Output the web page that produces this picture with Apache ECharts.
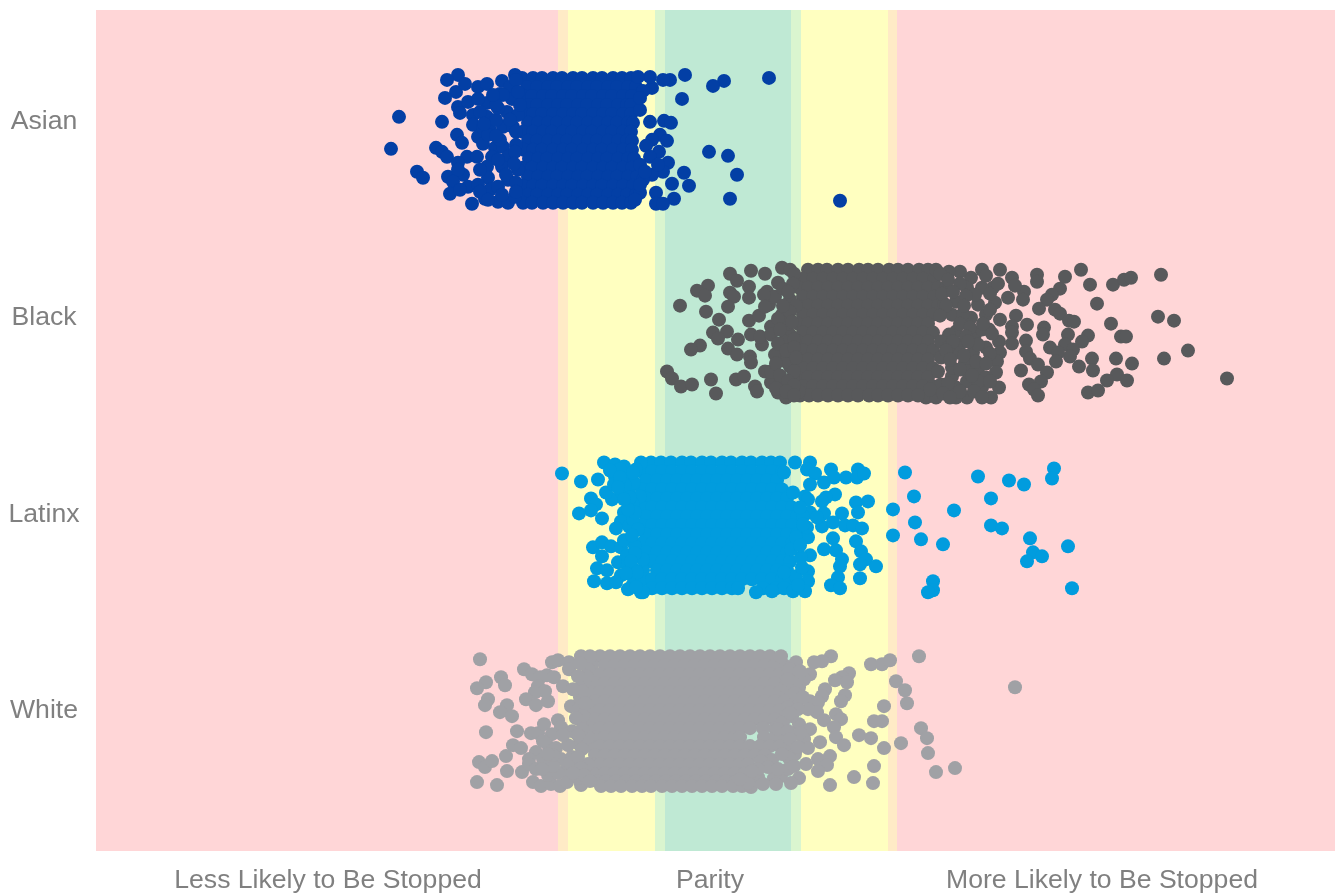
<!DOCTYPE html>
<html><head><meta charset="utf-8">
<style>html,body{margin:0;padding:0;background:#fff}#c{width:1335px;height:894px}</style>
<script src="https://cdn.jsdelivr.net/npm/echarts@6/dist/echarts.min.js"></script>
</head><body><div id="c"></div>
<script>
const groupNames = ['Asian','Black','Latinx','White'];
const groupColors = ['#033FA5','#58595B','#019CDE','#A0A1A5'];
const rowCentres = [130,324,518,712];
const rowLabelPositions = [112,308,505,701];
const xLabels = ['Less Likely to Be Stopped','Parity','More Likely to Be Stopped'];
const xLabelPositions = [-400,-18,374];
const bandStops = [-632,-170,-160,-73,-63,63,73,160,169,607];
const bandColors = ['#FFD6D7','#FFEBC6','#FFFFC0','#DAF5CF','#BFE9D4','#DAF5CF','#FFFFC0','#FFEBC6','#FFD6D7'];

// Each point: [score relative to parity, vertical jitter within the row]
const asianEdge = [[-329,-23],[-337,9],[-286,-18],[-311,32],[-305,38],[-292,8],[-286,12],[-281,17],[-270,-65],[-281,-60],[-272,-48],[-283,-42],[-263,-56],[-250,-53],[-241,-56],[-226,-59],[-213,-65],[-218,-53],[-270,-33],[-268,-27],[-260,-38],[-241,-37],[-216,-41],[-255,-25],[-221,-28],[-255,-15],[-241,-23],[-238,-10],[-271,-5],[-266,3],[-250,-3],[-225,-13],[-215,-13],[-233,8],[-225,7],[-261,17],[-251,17],[-236,17],[-220,17],[-270,23],[-241,27],[-226,27],[-280,37],[-265,35],[-270,30],[-240,38],[-220,40],[-275,42],[-260,47],[-250,45],[-278,54],[-268,50],[-238,50],[-256,64],[-243,59],[-230,62],[-220,63],[-213,57],[-250,-41],[-245,-12],[-232,-20],[-228,-46],[-245,4],[-210,-25],[-212,5],[-210,30],[-230,-32],[-43,-65],[-58,-60],[-65,-60],[-4,-59],[-15,-54],[41,-62],[-46,-41],[-76,-52],[-85,-49],[-78,-63],[-90,-63],[-78,-18],[-64,-19],[-57,-17],[-68,-5],[-61,1],[-76,0],[-82,6],[-69,12],[-78,17],[-19,12],[0,16],[9,35],[-60,23],[-44,33],[-39,46],[-56,44],[-65,32],[-76,35],[-54,59],[-72,53],[-72,64],[-65,64],[2,59],[112,61],[-88,53],[-93,60],[-85,40],[-88,25],[-83,32],[-88,45],[-88,-30],[-88,-42],[-70,25]];
const asianFill = [[-212,-60],[-225,-45],[-210,-48],[-232,-35],[-218,-20],[-212,-8],[-240,-5],[-228,0],[-213,12],[-230,20],[-214,24],[-222,35],[-212,43],[-230,47],[-248,30],[-212,52],[-226,55],[-248,52],[-240,60],[-248,-28],[-235,-45],[-208,-35],[-244,-16],[-232,-4]];
const asianCore = [
[-62,-206,-195,-186,-175,-166,-155,-146,-135,-126,-115,-106,-97],
[-53,-201,-191,-180,-171,-160,-151,-140,-131,-120,-111,-100,-92],
[-44,-205,-196,-185,-176,-165,-156,-145,-136,-125,-116,-105,-96],
[-35,-199,-191,-180,-170,-161,-150,-141,-130,-121,-110,-101,-97],
[-26,-204,-195,-186,-175,-165,-155,-146,-135,-125,-116,-105,-97],
[-17,-200,-190,-180,-171,-160,-151,-140,-130,-120,-111,-100,-95],
[-8,-205,-195,-185,-176,-165,-156,-145,-136,-125,-116,-105,-97],
[1,-200,-191,-180,-170,-161,-150,-140,-131,-120,-110,-101,-96],
[10,-204,-195,-186,-175,-165,-156,-145,-135,-126,-115,-105,-96],
[19,-199,-190,-181,-170,-160,-151,-140,-130,-121,-110,-100,-94],
[28,-205,-196,-185,-175,-166,-155,-146,-135,-125,-116,-105,-96],
[37,-200,-190,-180,-171,-160,-150,-141,-130,-120,-111,-100,-91],
[46,-205,-195,-186,-175,-165,-156,-145,-135,-126,-115,-105,-95],
[55,-200,-191,-180,-170,-161,-150,-140,-131,-120,-110,-101,-92],
[63,-205,-196,-185,-175,-165,-155,-146,-135,-125,-115,-106,-97]];

const blackEdge = [[-48,-28],[-20,-48],[-31,-43],[-23,-38],[2,-60],[9,-53],[23,-63],[37,-60],[21,-47],[2,-41],[6,-37],[21,-36],[0,-27],[-22,-22],[-9,-14],[21,-13],[31,-18],[-15,-1],[-1,-2],[-10,5],[10,6],[-28,12],[-37,16],[0,15],[9,21],[22,23],[23,29],[23,1],[34,11],[-61,38],[-56,45],[-47,53],[-36,51],[-17,46],[-12,60],[8,46],[16,43],[27,53],[29,58],[37,38],[43,49],[50,59],[58,64],[39,-42],[41,-29],[54,-66],[62,-64],[43,-7],[54,-19],[52,24],[62,33],[71,58],[47,-37],[50,-51],[62,-34],[65,44],[32,3],[43,1],[36,-39],[37,-27],[62,1],[47,21],[58,28],[43,38],[55,-45],[60,-10],[56,8],[60,17],[54,50],[62,54],[272,-64],[254,-64],[309,-59],[309,-52],[284,-56],[296,-42],[295,-34],[280,-36],[267,-31],[265,-46],[287,-48],[337,-57],[353,-64],[362,-49],[385,-49],[396,-54],[403,-56],[433,-59],[332,-45],[324,-39],[319,-34],[311,-25],[369,-30],[327,-24],[332,-20],[341,-13],[346,-12],[430,-17],[446,-13],[383,-10],[288,-18],[299,-9],[284,-7],[284,-1],[316,-6],[315,1],[340,1],[360,2],[354,8],[393,3],[398,3],[271,8],[284,10],[298,7],[322,14],[337,11],[330,19],[345,16],[342,23],[328,28],[298,18],[302,25],[310,31],[319,39],[293,37],[351,33],[364,25],[365,37],[388,25],[404,30],[436,25],[460,17],[389,41],[379,47],[399,47],[499,45],[360,59],[370,57],[313,48],[301,51],[306,56],[310,62],[272,19],[269,28],[268,39],[271,54],[263,64],[250,36],[254,54],[239,64],[228,64],[198,64],[208,64],[258,14],[245,19],[237,29],[230,19],[224,43],[258,-19],[261,-4],[250,-29],[228,54],[243,-56],[254,-46],[239,-46],[228,-32],[247,-39],[232,-62],[221,-62],[208,-64],[224,-19],[243,-16],[228,-2],[247,1],[254,-4],[221,1],[213,8],[232,11],[250,11],[224,34],[239,48],[258,44],[213,24],[210,38],[213,51],[218,-46],[216,-30],[235,-20],[240,38],[250,48],[222,54],[220,14]];
const blackFill = [[66,-60],[65,-50],[60,-42],[68,-28],[62,-22],[55,-28],[50,-15],[64,-12],[52,-4],[66,6],[50,10],[58,17],[66,14],[68,24],[48,30],[66,38],[52,42],[60,48],[66,52],[48,55],[58,58],[66,62],[212,-60],[220,-54],[232,-50],[214,-40],[225,-42],[238,-38],[218,-28],[236,-28],[212,-18],[232,-10],[242,-6],[238,3],[225,8],[240,8],[218,17],[236,22],[248,28],[222,26],[232,36],[244,42],[220,50],[232,58],[246,58],[254,64],[215,60],[222,64],[202,56],[180,62],[190,62],[258,-58],[262,-40],[270,-50],[262,-24],[272,-14],[264,0],[262,20],[258,30],[262,48],[255,-10]];
const blackCore = [
[-64,80,90,99,110,120,131,140,150,161,170,180,191,200],
[-55,75,85,95,105,115,125,135,145,155,165,175,185,195,206],
[-46,71,80,90,100,110,120,130,140,150,160,170,180,190,200,210],
[-37,75,85,95,105,115,125,135,145,155,165,175,185,195,206],
[-28,70,80,90,100,110,120,130,140,150,160,170,180,190,200,210],
[-19,75,85,95,105,115,125,135,145,155,165,175,185,195,205],
[-10,70,80,90,100,110,120,130,140,150,160,170,180,190,200],
[-1,75,85,95,105,115,125,135,145,155,165,175,185,195,205],
[8,70,80,90,100,110,120,130,140,150,160,170,180,190,200],
[17,75,85,95,105,115,125,135,145,155,165,175,185,195,205],
[26,70,80,90,100,110,120,130,140,150,160,170,180,190,200],
[35,75,85,95,105,115,125,135,145,155,165,175,185,195,205],
[44,70,80,90,100,110,120,130,140,150,160,170,180,190,200],
[53,75,85,95,105,115,125,135,145,155,165,175,185,195,205],
[62,72,81,90,100,110,120,130,141,150,160,170]];

const latinxEdge = [[-166,-54],[-147,-46],[-130,-48],[-124,-65],[-113,-63],[-104,-61],[-87,-65],[-137,-29],[-132,-23],[-137,-17],[-149,-14],[-126,-9],[-116,-28],[-122,-35],[-113,-51],[-101,-50],[-114,-43],[-99,-38],[-104,-15],[-107,-6],[-112,1],[-99,-1],[-135,20],[-126,15],[-117,19],[-107,20],[-104,13],[-126,29],[-93,19],[-110,35],[-100,37],[-131,41],[-121,43],[-134,54],[-121,56],[-107,48],[-96,59],[-87,65],[-94,42],[-85,32],[-94,52],[-88,-31],[-92,-58],[-94,-45],[-95,-23],[-95,-8],[-90,2],[-106,-35],[-108,-58],[-103,-42],[-100,-27],[-118,-57],[-101,28],[-85,65],[67,-65],[82,-65],[79,-58],[87,-54],[82,-43],[96,-45],[103,-58],[106,-50],[118,-50],[130,-58],[129,-50],[136,-54],[56,-55],[107,-33],[98,-30],[94,-26],[77,-31],[65,-35],[128,-25],[140,-26],[130,-15],[114,-14],[96,-14],[82,-15],[94,-1],[105,-5],[117,-2],[125,-2],[134,1],[80,10],[79,0],[105,11],[128,14],[96,22],[108,23],[133,24],[138,32],[132,37],[148,39],[114,32],[112,39],[82,28],[73,30],[80,44],[110,50],[132,51],[103,58],[112,61],[80,54],[77,64],[65,64],[68,49],[44,64],[28,65],[56,45],[63,22],[68,10],[89,-10],[75,-11],[80,-28],[177,-55],[250,-51],[281,-47],[296,-43],[326,-59],[324,-49],[186,-31],[263,-29],[165,-18],[226,-17],[187,-5],[263,-2],[274,1],[165,8],[193,12],[215,17],[302,11],[340,19],[305,25],[314,29],[299,34],[205,54],[205,63],[200,65],[344,61]];
const latinxFill = [[-95,-55],[-98,-30],[-93,-15],[-100,-18],[-96,8],[-93,26],[-97,34],[-91,45],[-100,62],[-92,60],[72,-20],[75,-3],[72,18],[74,40],[70,58],[-108,-50],[-110,-40],[-104,-28],[-112,55],[-102,46]];
const latinxCore = [
[-65,-77,-67,-57,-46,-37,-26,-17,-6,3,14,23,34,43,52],
[-56,-86,-76,-66,-56,-46,-36,-26,-16,-6,4,14,24,34,44,54],
[-47,-82,-71,-61,-51,-41,-31,-21,-11,-1,9,19,29,39,49],
[-38,-86,-76,-66,-56,-46,-36,-26,-16,-6,4,14,24,34,44,54],
[-29,-82,-71,-61,-51,-41,-31,-21,-11,-1,9,19,29,39,49,59],
[-20,-86,-76,-66,-56,-46,-36,-26,-16,-6,4,14,24,34,44,54,64],
[-11,-82,-71,-61,-51,-41,-31,-21,-11,-1,9,19,29,39,49,59,69],
[-2,-86,-76,-66,-56,-46,-36,-26,-16,-6,4,14,24,34,44,54,64],
[7,-82,-71,-61,-51,-41,-31,-21,-11,-1,9,19,29,39,49,59,69],
[16,-86,-76,-66,-56,-46,-36,-26,-16,-6,4,14,24,34,44,54,64],
[25,-82,-71,-61,-51,-41,-31,-21,-11,-1,9,19,29,39,49,59],
[34,-80,-76,-66,-56,-46,-36,-26,-16,-6,4,14,24,34,44,54,62],
[43,-85,-71,-61,-51,-41,-31,-21,-11,-1,9,19,29,39,49,59],
[52,-84,-76,-66,-56,-46,-36,-26,-16,-6,4,14,24,34,44,54,62],
[61,-76,-66,-56,-46,-36,-26,-16,-6,4,10,35,48,56]];

const whiteEdge = [[-248,-62],[-242,-39],[-251,-33],[-227,-44],[-223,-36],[-240,-22],[-243,-16],[-221,-16],[-228,-9],[-216,-5],[-242,11],[-211,10],[-197,12],[-190,12],[-215,24],[-207,27],[-222,35],[-249,41],[-243,46],[-236,40],[-221,50],[-206,51],[-251,61],[-231,64],[-204,-52],[-196,-47],[-188,-44],[-181,-46],[-174,-44],[-176,-59],[-170,-61],[-159,-59],[-159,-52],[-190,-35],[-193,-29],[-202,-22],[-192,-16],[-180,-20],[-165,-35],[-157,-15],[-149,-12],[-145,0],[-184,3],[-170,-1],[-167,6],[-176,13],[-156,10],[-192,31],[-179,26],[-199,38],[-199,43],[-192,48],[-177,41],[-167,38],[-163,50],[-195,61],[-187,65],[-177,63],[-168,65],[-161,61],[-147,64],[-156,36],[-149,23],[-140,43],[-147,-65],[-138,-65],[-140,16],[-185,20],[-172,27],[-160,24],[-180,54],[-170,52],[-150,57],[-140,-52],[-145,-38],[-148,-24],[-183,-30],[103,-65],[94,-60],[86,-59],[68,-59],[53,-65],[143,-57],[154,-57],[162,-61],[191,-65],[287,-34],[121,-48],[114,-44],[107,-41],[119,-39],[168,-40],[177,-31],[179,-18],[156,-15],[97,-32],[94,-25],[117,-26],[113,-20],[82,-47],[76,-42],[71,-34],[82,-20],[90,-19],[89,-9],[80,-12],[96,-1],[108,-7],[113,-2],[146,0],[154,0],[106,6],[108,16],[116,24],[131,14],[143,17],[156,27],[173,22],[193,7],[199,17],[200,32],[208,51],[227,47],[146,45],[145,62],[126,56],[102,64],[71,3],[82,8],[76,18],[92,21],[80,27],[67,33],[61,37],[44,39],[33,40],[78,43],[90,38],[102,35],[99,44],[90,50],[71,57],[63,62],[53,55],[46,57],[48,63],[30,56],[23,66],[5,65],[14,65],[69,-42],[58,-35],[69,-20],[64,-5],[55,1]];
const whiteFill = [[-148,-58],[-142,-45],[-150,-45],[-146,-30],[-155,-32],[-143,-18],[-145,-5],[-152,-3],[-146,8],[-150,14],[-146,28],[-158,42],[-150,36],[-147,47],[-144,54],[-155,52],[-138,60],[-175,45],[-175,34],[-185,38],[-165,14],[-180,33],[-186,48],[62,-52],[72,-50],[60,-42],[67,-28],[75,-24],[60,-14],[70,-12],[62,-8],[50,8],[60,10],[72,12],[62,18],[70,26],[54,33],[40,46],[30,48],[20,62],[35,63],[12,58],[24,50],[60,48],[50,48],[66,45]];
const whiteCore = [
[-65,-128,-118,-108,-98,-88,-78,-68,-58,-48,-38,-28,-18,-8,2,12,22,32,42],
[-56,-136,-123,-113,-103,-93,-83,-73,-63,-53,-43,-33,-23,-13,-3,7,17,27,37,47,56],
[-47,-138,-128,-118,-108,-98,-88,-78,-68,-58,-48,-38,-28,-18,-8,2,12,22,32,42,52,60],
[-38,-133,-123,-113,-103,-93,-83,-73,-63,-53,-43,-33,-23,-13,-3,7,17,27,37,47,62],
[-29,-138,-128,-118,-108,-98,-88,-78,-68,-58,-48,-38,-28,-18,-8,2,12,22,32,42,52,64],
[-20,-133,-123,-113,-103,-93,-83,-73,-63,-53,-43,-33,-23,-13,-3,7,17,27,37,47,57],
[-11,-138,-128,-118,-108,-98,-88,-78,-68,-58,-48,-38,-28,-18,-8,2,12,22,32,42,52,62],
[-2,-133,-123,-113,-103,-93,-83,-73,-63,-53,-43,-33,-23,-13,-3,7,17,27,37,47],
[7,-138,-128,-118,-108,-98,-88,-78,-68,-58,-48,-38,-28,-18,-8,2,12,22,35,47],
[16,-133,-123,-113,-103,-93,-83,-73,-63,-53,-43,-33,-23,-13,-3,7,12,36,47,57],
[25,-138,-128,-118,-108,-98,-88,-78,-68,-58,-48,-38,-28,-18,-8,2,12,22,32,42,52,62],
[34,-133,-123,-113,-103,-93,-83,-73,-63,-53,-43,-33,-23,-13,-3,7,17,27,37],
[43,-134,-128,-118,-108,-98,-88,-78,-68,-58,-48,-38,-28,-18,-8,2,12,20],
[52,-135,-123,-113,-103,-93,-83,-73,-63,-53,-43,-33,-23,-13,-3,7,17],
[60,-131,-122,-112,-102,-92,-82,-72,-62,-52,-42,-32,-22,-12,-2,8],
[65,-127,-117,-107,-96,-86,-77,-66,-56,-46,-36,-26,-16,-6]];

const edges = [asianEdge.concat(asianFill), blackEdge.concat(blackFill), latinxEdge.concat(latinxFill), whiteEdge.concat(whiteFill)];
const cores = [asianCore, blackCore, latinxCore, whiteCore];

function pointsFor(i){
  const pts = [];
  cores[i].forEach(function(row){
    row.slice(1).forEach(function(x){ pts.push([x, rowCentres[i] + row[0]]); });
  });
  edges[i].forEach(function(p){ pts.push([p[0], rowCentres[i] + p[1]]); });
  return pts;
}
const bandAreas = bandColors.map(function(c,i){
  return [{xAxis:bandStops[i], itemStyle:{color:c, opacity:1}}, {xAxis:bandStops[i+1]}];
});
const labelColor = '#808080';
const series = [{
  type:'scatter', name:'bands', data:[], silent:true, z:1,
  markArea:{silent:true, animation:false, data:bandAreas}
}].concat(groupNames.map(function(n,i){
  return {type:'scatter', name:n, data:pointsFor(i), symbol:'circle', symbolSize:14,
    itemStyle:{color:groupColors[i], opacity:1}, z:3, silent:true, large:false};
}));
const chart = echarts.init(document.getElementById('c'), null, {renderer:'canvas'});
chart.setOption({
  animation:false, backgroundColor:'#fff',
  grid:{left:96, top:10, width:1239, height:842, containLabel:false},
  xAxis:{type:'value', min:-632, max:607, axisLine:{show:false}, axisTick:{show:false}, splitLine:{show:false},
    axisLabel:{customValues:xLabelPositions, color:labelColor, fontFamily:'Liberation Sans', fontSize:26.6, margin:16, hideOverlap:false,
      formatter:function(v){ return xLabels[xLabelPositions.indexOf(v)] || ''; }}},
  yAxis:{type:'value', inverse:true, min:0, max:842, axisLine:{show:false}, axisTick:{show:false}, splitLine:{show:false},
    axisLabel:{customValues:rowLabelPositions, color:labelColor, fontFamily:'Liberation Sans', fontSize:26.6, margin:52, align:'center',
      formatter:function(v){ return groupNames[rowLabelPositions.indexOf(v)] || ''; }}},
  series:series
});
</script></body></html>
